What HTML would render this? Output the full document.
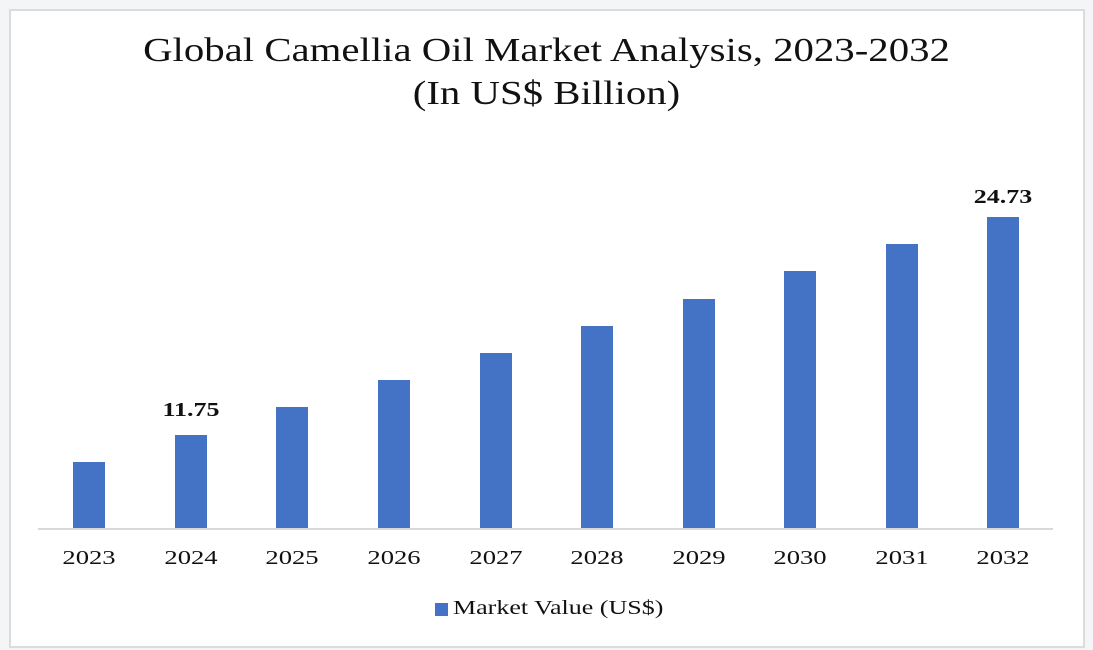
<!DOCTYPE html>
<html><head><meta charset="utf-8"><style>
body{margin:0;width:1093px;height:650px;background:#f4f5f7;position:relative;overflow:hidden;font-family:"Liberation Serif",serif;}
#f{position:absolute;left:9px;top:9px;width:1072px;height:635px;background:#fff;border:2px solid #dcdcdc;}
.t{position:absolute;left:0;width:1093px;text-align:center;font-size:34px;color:#111;transform:scaleX(1.2);}
.b{position:absolute;width:32px;background:#4472c4;}
.y{position:absolute;width:80px;text-align:center;font-size:20px;top:547px;color:#111;transform:scaleX(1.33);}
.l{position:absolute;width:100px;text-align:center;font-size:20px;font-weight:bold;color:#111;transform:scaleX(1.3);}
</style></head><body>
<div id="f"></div>
<div class="t" style="top:32px">Global Camellia Oil Market Analysis, 2023-2032</div>
<div class="t" style="top:75px">(In US$ Billion)</div>
<div style="position:absolute;left:38px;top:528px;width:1015px;height:2px;background:#d9d9d9"></div>
<div class="b" style="left:73px;top:462px;height:66px"></div>
<div class="b" style="left:175px;top:435px;height:93px"></div>
<div class="b" style="left:276px;top:407px;height:121px"></div>
<div class="b" style="left:378px;top:380px;height:148px"></div>
<div class="b" style="left:480px;top:353px;height:175px"></div>
<div class="b" style="left:581px;top:326px;height:202px"></div>
<div class="b" style="left:683px;top:299px;height:229px"></div>
<div class="b" style="left:784px;top:271px;height:257px"></div>
<div class="b" style="left:886px;top:244px;height:284px"></div>
<div class="b" style="left:987px;top:217px;height:311px"></div>
<div class="l" style="left:141px;top:399px">11.75</div>
<div class="l" style="left:953px;top:186px">24.73</div>
<div class="y" style="left:49px">2023</div>
<div class="y" style="left:151px">2024</div>
<div class="y" style="left:252px">2025</div>
<div class="y" style="left:354px">2026</div>
<div class="y" style="left:456px">2027</div>
<div class="y" style="left:557px">2028</div>
<div class="y" style="left:659px">2029</div>
<div class="y" style="left:760px">2030</div>
<div class="y" style="left:862px">2031</div>
<div class="y" style="left:963px">2032</div>
<div style="position:absolute;left:435px;top:603px;width:13px;height:13px;background:#4472c4"></div>
<div style="position:absolute;left:453px;top:597px;font-size:20px;color:#111;white-space:nowrap;transform:scaleX(1.3);transform-origin:left center">Market Value (US$)</div>
</body></html>
